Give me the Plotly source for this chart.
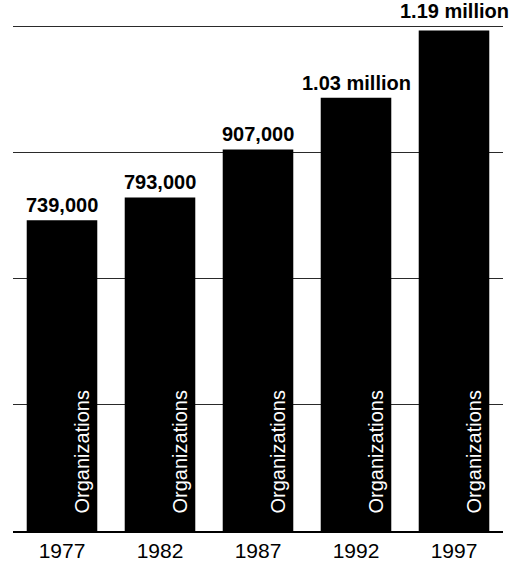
import plotly.graph_objects as go

years = ["1977", "1982", "1987", "1992", "1997"]
organizations = [739000, 793000, 907000, 1030000, 1190000]
value_labels = ["739,000", "793,000", "907,000", "1.03 million", "1.19 million"]
bar_caption = "Organizations"

fig = go.Figure(
    go.Bar(
        x=years,
        y=organizations,
        marker=dict(color="black", line=dict(width=0)),
        hoverinfo="skip",
    )
)

annotations = []
for i, (val, lab) in enumerate(zip(organizations, value_labels)):
    # value above each bar (category axis: position by serial number);
    # the tallest one is lifted clear of the top gridline
    annotations.append(dict(
        x=i, y=val, text=lab, showarrow=False,
        xanchor="center", yanchor="bottom",
        yshift=6 if i == len(years) - 1 else 2,
        font=dict(family="Liberation Sans, Arial, sans-serif", size=20, color="black", weight="bold"),
    ))
    # rotated caption inside the bar
    annotations.append(dict(
        x=i, y=0, text=bar_caption, showarrow=False, textangle=-90,
        xanchor="center", yanchor="bottom", xshift=19, yshift=15,
        font=dict(family="Liberation Sans, Arial, sans-serif", size=20, color="white"),
    ))

fig.update_layout(
    width=523, height=561,
    margin=dict(l=13, r=20, t=22, b=30),
    paper_bgcolor="white", plot_bgcolor="white",
    bargap=0.28,
    showlegend=False,
    annotations=annotations,
    xaxis=dict(
        type="category", automargin=False, range=[-0.5, len(years) - 0.5],
        showgrid=False, showline=True, linecolor="black", linewidth=2,
        ticks="", tickfont=dict(family="Liberation Sans, Arial, sans-serif", size=21, color="black"),
    ),
    yaxis=dict(
        range=[0, 1210000], dtick=300000, showticklabels=False, automargin=False,
        showgrid=True, gridcolor="#2a2a2a", gridwidth=1, zeroline=False,
    ),
)

fig.write_html("out.html")
